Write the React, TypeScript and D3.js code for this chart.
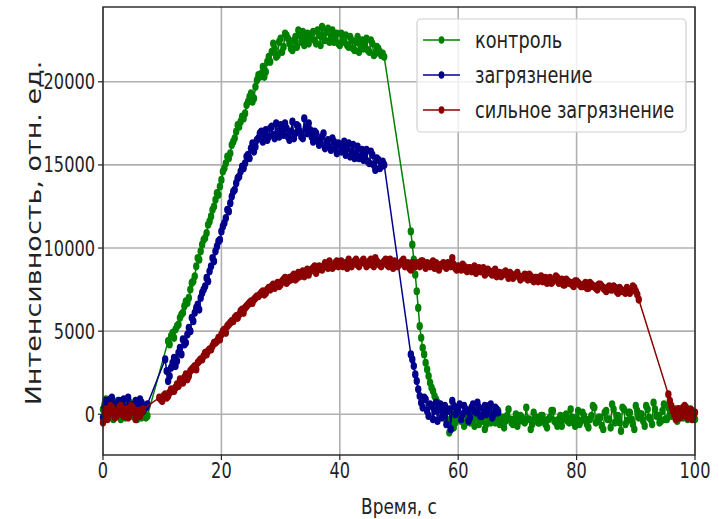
import React, { useRef, useEffect } from 'react';
import * as d3 from 'd3';

// sampling interval of each recorded run, s (two runs per curve, shifted by a quarter second)
const STEP = 0.5;

// контроль: segment start times and values
const greenStarts = [0, 11, 52, 0.25, 11.25, 52.25];
const greenA = [300, 900, -200, 600, 100, 800, -300, 500, 200, 700, -100, 400, 600, -200, 300, -100];
const greenB = [
  4400, 4700, 4600, 5300, 5800, 6100, 6800, 7000, 7900, 8300, 9400, 9800, 10500, 10900, 11600, 12300,
  12900, 13200, 14100, 14800, 15500, 15700, 16400, 17000, 17300, 17900, 18100, 18800, 19300, 19000,
  20100, 20300, 20900, 20600, 21500, 21800, 22000, 21600, 22600, 22100, 22800, 22300, 21900, 22700,
  23100, 22400, 22200, 22900, 22600, 23000, 22300, 22800, 23300, 22500, 23200, 22700, 22400, 22900,
  22200, 22600, 22800, 22100, 22500, 21900, 22700, 22200, 22000, 22600, 21800, 22300, 21700, 22000,
  21600, 21500,
];
const greenC = [
  11000, 9300, 7400, 5300, 4000, 3100, 2300, 1600, 1100, 700, 300, 0,
  -300, -1100, -200, -500, 100, -400, -700, -100, -500, -300, 200, -600, -400, -900, -200, -500,
  100, -300, -600, -200, -400, 300, -500, -300, -700, -100, -400, 400, -300, -600, -200, -500,
  -100, -400, -800, -200, 200, -500, -300, -700, -100, -400, 300, -500, -200, -600, 100, -300,
  -800, -100, 400, -400, -200, -900, 200, -300, 600, -500, -100, -1000, 300, -400, 100, -600,
  500, -200, 0, -700, 300, -300, 700, -100, -500, 200, -300, 400, -100, 300, -400, 100, -200,
  400, -100, 200, -300,
];
const greenA2 = [600, 100, 400, -300, 700, 0, 300, -200, 800, 100, 500, -300, 200, 400, -200];
const greenB2 = [
  4200, 4900, 5100, 5400, 6000, 6500, 6700, 7500, 8000, 8900, 9300, 10200, 10600, 11400, 11900, 12500,
  13300, 13700, 14600, 15100, 15400, 16200, 16600, 17400, 17600, 17800, 18600, 19100, 18800, 19700,
  20400, 20500, 20300, 21200, 21200, 22300, 21500, 22400, 21800, 22900, 22600, 22000, 22500, 22100,
  22800, 23000, 22600, 22300, 22900, 22500, 23100, 22200, 22700, 23000, 22400, 23100, 22700, 22300,
  22900, 22400, 22200, 22700, 22000, 22400, 21800, 22500, 22300, 21900, 22500, 21600, 22100, 21800,
  21700,
];
const greenC2 = [
  10200, 8400, 6400, 4600, 3600, 2700, 1900, 1400, 900, 500, 100, -200,
  -600, 200, -800, -300, -200, 0, -500, -300, 300, -700, -200, -400, 0, -600, -300, -100, -500, 200,
  -400, -800, -100, -300, -600, 0, -400, -200, -500, -300, -900, 100, -200, -500, -100, -600, -300,
  200, -400, -700, -100, -300, 0, -500, -200, -700, 200, -400, -100, -600, -300, 500, -500, -200,
  -700, 100, -300, -800, 300, -100, -500, 400, -600, 100, -300, -900, 200, 0, -400, 500, -200, -600,
  300, -100, -400, 600, -300, 0, 200, -200, 300, -100, 100, -300, 200, 0,
];

// загрязнение
const blueStarts = [0, 10.5, 52, 0.25, 10.75, 52.25];
const blueA = [-200, 800, 500, 1000, 300, 700, 100, 900, 400, 600, 200, 800, 300, 700, 500, 600];
const blueB = [
  3300, 2000, 2800, 3400, 3200, 4000, 4500, 4300, 5200, 5800, 6100, 6600, 7000, 7500, 8200, 8600,
  9400, 9800, 10400, 11000, 11500, 12300, 12700, 13400, 13900, 14300, 14900, 15100, 15600, 16000,
  15800, 16500, 16900, 16400, 17100, 16700, 17300, 16600, 17000, 17400, 16800, 17200, 16500, 17600,
  16900, 17300, 16700, 17800, 16900, 17100, 16400, 16900, 16200, 16700, 16000, 16500, 15900, 16400,
  15700, 16200, 16000, 15600, 16300, 15800, 15400, 16100, 15500, 15300, 15900, 15100, 15600, 14700,
  15300, 14900, 15000,
];
const blueC = [
  3600, 2900, 2000, 1100, 400, 900, -100, 500, 200, -400, 600, 100, -600, 300, 800, 0,
  400, -300, 500, 200, -200, 600, 100, 400, -100, 500, 200, 600, 0, 300,
];
const blueA2 = [400, 200, 900, 600, 0, 800, 500, 300, 1000, 200, 600, 400, 900, 200, 400];
const blueB2 = [
  2600, 2300, 3100, 2900, 3700, 3600, 4200, 4800, 5000, 5600, 6400, 6300, 7300, 7700, 8000, 8900,
  9200, 10100, 10500, 11300, 11800, 12200, 13100, 13500, 14200, 14600, 14800, 15500, 15400, 16300,
  16100, 16600, 17000, 16800, 16500, 17200, 16800, 17500, 16700, 17100, 17500, 16700, 17000, 16600,
  17400, 17000, 16600, 17200, 17500, 16700, 17000, 16500, 16300, 16900, 16300, 16100, 16600, 16000,
  16300, 15800, 16400, 16000, 15500, 16200, 15700, 15400, 15900, 15600, 15200, 15800, 15000, 15400,
  14800, 15200,
];
const blueC2 = [
  3300, 2400, 1500, 700, 1000, 200, 600, -300, 700, 300, -200, 500, 200, -900, 500, 100,
  600, 0, 300, -400, 400, 200, 700, -100, 300, 0, 500, -200, 400, 100,
];

// сильное загрязнение
const redStarts = [0, 9.5, 95.5, 0.25, 9.75, 95.75];
const redA = [-500, 300, 0, 400, -200, 200, 500, -100, 300, 0, 400, -300, 200, 100];
const redB = [
  1000, 800, 1200, 1100, 1500, 1400, 1800, 2100, 1900, 2400, 2300, 2700, 2900, 3100, 3300, 3500,
  3600, 3900, 4100, 4300, 4600, 4800, 5100, 5300, 5500, 5600, 5900, 6000, 6300, 6400, 6600, 6800,
  6900, 7100, 7200, 7400, 7300, 7600, 7700, 7600, 7900, 7800, 8100, 7900, 8200, 8300, 8100, 8500,
  8400, 8300, 8700, 8600, 8800, 8500, 8900, 8700, 9100, 8800, 9000, 8900, 9200, 9000, 8900, 9100,
  9300, 8900, 9200, 9000, 9100, 9300, 8900, 9200, 9000, 9400, 9100, 8900, 9200, 9000, 9300, 8800,
  9100, 9000, 9200, 8900, 9100, 8700, 9000, 9100, 8900, 9200, 8800, 9000, 9100, 8800, 9000, 8900,
  9100, 8800, 9000, 9400, 8800, 8900, 8700, 8900, 8600, 8800, 8700, 8500, 8800, 8600, 8400, 8700,
  8500, 8600, 8300, 8500, 8400, 8600, 8200, 8400, 8300, 8500, 8100, 8300, 8200, 8400, 8100, 8200,
  8000, 8300, 8100, 7900, 8200, 8000, 8300, 7900, 8100, 7800, 8000, 7900, 7700, 8000, 7800, 7700,
  7900, 7600, 7800, 7700, 7500, 7800, 7600, 7400, 7700, 7500, 7600, 7300, 7500, 7400, 7600, 7300,
  7700, 7400, 6900,
];
const redC = [1200, 500, 0, 300, -200, 400, -100, 200, -300, 100];
const redA2 = [100, -300, 500, 200, -100, 400, 0, 300, -200, 500, 100, 200, -100, 300];
const redB2 = [
  900, 1100, 1000, 1300, 1400, 1600, 1700, 2000, 2200, 2100, 2600, 2800, 2700, 3200, 3300, 3700,
  3800, 3900, 4300, 4400, 4500, 5000, 4900, 5400, 5600, 5800, 5800, 6200, 6100, 6500, 6700, 6700,
  7000, 7100, 7300, 7200, 7500, 7500, 7800, 7800, 7700, 8000, 8200, 8000, 8100, 8400, 8200, 8300,
  8600, 8500, 8400, 8700, 8900, 8700, 8800, 8900, 9000, 9200, 8800, 9100, 8900, 9200, 9000, 8800,
  9100, 9100, 9300, 8900, 9200, 9100, 9000, 9300, 8900, 9200, 9000, 9100, 9300, 8900, 9100, 9200,
  8900, 9100, 9300, 9000, 8800, 9100, 8900, 9000, 9200, 9000, 9100, 8900, 9200, 9100, 8700, 9000,
  8900, 9100, 8900, 9000, 8700, 8800, 9000, 8700, 8800, 8600, 8900, 8700, 8600, 8800, 8500, 8600,
  8400, 8700, 8500, 8300, 8500, 8400, 8500, 8200, 8400, 8300, 8200, 8400, 8100, 8300, 8000, 8200,
  8100, 8000, 8200, 8100, 7900, 8100, 8200, 8000, 7800, 8100, 7900, 7800, 8000, 7900, 7700, 7800,
  7600, 7900, 7700, 7600, 7800, 7700, 7500, 7600, 7500, 7700, 7400, 7600, 7400, 7300, 7500, 7500,
  7600, 7200,
];
const redC2 = [800, 200, -300, 300, 0, 500, -200, 300, -100];

const xTicks = [0, 20, 40, 60, 80, 100];
const yTicks = [0, 5000, 10000, 15000, 20000];

const series = [
  { name: 'контроль', color: '#008000', starts: greenStarts, segs: [greenA, greenB, greenC, greenA2, greenB2, greenC2] },
  { name: 'загрязнение', color: '#00008b', starts: blueStarts, segs: [blueA, blueB, blueC, blueA2, blueB2, blueC2] },
  { name: 'сильное загрязнение', color: '#8b0000', starts: redStarts, segs: [redA, redB, redC, redA2, redB2, redC2] },
];

// the picture is squeezed horizontally, so text is too
const SX = 0.77;
const FONT = 'DejaVu Sans';

function App() {
  const svgRef = useRef(null);

  useEffect(() => {
    const width = 719;
    const height = 519;
    const left = 103, right = 695, top = 7, bottom = 455;

    const x = d3.scaleLinear().domain([0, 100]).range([left, right]);
    const y = d3.scaleLinear().domain([-2450, 24500]).range([bottom, top]);

    const svg = d3.select(svgRef.current);
    svg.selectAll('*').remove();
    svg.attr('width', width).attr('height', height);

    svg.append('rect').attr('width', width).attr('height', height).attr('fill', 'white');

    // grid
    const grid = svg.append('g').attr('stroke', '#b0b0b0').attr('stroke-width', 1.6);
    grid.selectAll('.gx')
      .data(xTicks)
      .join('line')
      .attr('x1', d => x(d)).attr('x2', d => x(d))
      .attr('y1', top).attr('y2', bottom);
    grid.selectAll('.gy')
      .data(yTicks)
      .join('line')
      .attr('x1', left).attr('x2', right)
      .attr('y1', d => y(d)).attr('y2', d => y(d));

    const line = d3.line().x(d => x(d.t)).y(d => y(d.v));

    series.forEach(s => {
      const pts = s.segs
        .flatMap((vals, i) => vals.map((v, j) => ({ t: s.starts[i] + j * STEP, v })))
        .sort((a, b) => a.t - b.t);
      const g = svg.append('g');
      g.append('path')
        .attr('d', line(pts))
        .attr('fill', 'none')
        .attr('stroke', s.color)
        .attr('stroke-width', 1.5);
      g.selectAll('ellipse')
        .data(pts)
        .join('ellipse')
        .attr('cx', d => x(d.t))
        .attr('cy', d => y(d.v))
        .attr('rx', 3.2)
        .attr('ry', 4.1)
        .attr('fill', s.color);
    });

    // frame
    svg.append('rect')
      .attr('x', left).attr('y', top)
      .attr('width', right - left).attr('height', bottom - top)
      .attr('fill', 'none')
      .attr('stroke', '#222')
      .attr('stroke-width', 1.4);

    // bottom axis
    const xa = svg.append('g');
    xa.selectAll('line')
      .data(xTicks)
      .join('line')
      .attr('x1', d => x(d)).attr('x2', d => x(d))
      .attr('y1', bottom).attr('y2', bottom + 5)
      .attr('stroke', '#222').attr('stroke-width', 1.2);
    xa.selectAll('text')
      .data(xTicks)
      .join('text')
      .attr('transform', d => `translate(${x(d)},${bottom + 23}) scale(${SX},1)`)
      .attr('text-anchor', 'middle')
      .attr('font-family', FONT)
      .attr('font-size', 21)
      .attr('fill', '#222')
      .text(d => d);

    // left axis
    const ya = svg.append('g');
    ya.selectAll('line')
      .data(yTicks)
      .join('line')
      .attr('x1', left - 5).attr('x2', left)
      .attr('y1', d => y(d)).attr('y2', d => y(d))
      .attr('stroke', '#222').attr('stroke-width', 1.2);
    ya.selectAll('text')
      .data(yTicks)
      .join('text')
      .attr('transform', d => `translate(${left - 8},${y(d) + 7.5}) scale(${SX},1)`)
      .attr('text-anchor', 'end')
      .attr('font-family', FONT)
      .attr('font-size', 21)
      .attr('fill', '#222')
      .text(d => d);

    svg.append('text')
      .attr('transform', `translate(${(left + right) / 2},${bottom + 59}) scale(${SX},1)`)
      .attr('text-anchor', 'middle')
      .attr('font-family', FONT)
      .attr('font-size', 22)
      .attr('fill', '#222')
      .text('Время, с');

    svg.append('text')
      .attr('transform', `translate(41,233) scale(${SX},1) rotate(-90)`)
      .attr('text-anchor', 'middle')
      .attr('font-family', FONT)
      .attr('font-size', 27)
      .attr('fill', '#222')
      .text('Интенсивность, отн. ед.');

    // legend
    const lg = svg.append('g');
    lg.append('rect')
      .attr('x', 417).attr('y', 19)
      .attr('width', 269).attr('height', 113)
      .attr('rx', 4)
      .attr('fill', 'white').attr('fill-opacity', 0.8)
      .attr('stroke', '#d0d0d0').attr('stroke-width', 1.2);
    series.forEach((s, i) => {
      const cy = 40 + i * 35;
      lg.append('line')
        .attr('x1', 423).attr('x2', 460)
        .attr('y1', cy).attr('y2', cy)
        .attr('stroke', s.color).attr('stroke-width', 1.5);
      lg.append('ellipse')
        .attr('cx', 441.5).attr('cy', cy)
        .attr('rx', 2.9).attr('ry', 3.7)
        .attr('fill', s.color);
      lg.append('text')
        .attr('transform', `translate(475,${cy + 8}) scale(${SX},1)`)
        .attr('font-family', FONT)
        .attr('font-size', 23)
        .attr('fill', '#222')
        .text(s.name);
    });
  }, []);

  return (
    <svg ref={svgRef} style={{ position: 'absolute', left: 0, top: 0 }}></svg>
  );
}

export default App;
